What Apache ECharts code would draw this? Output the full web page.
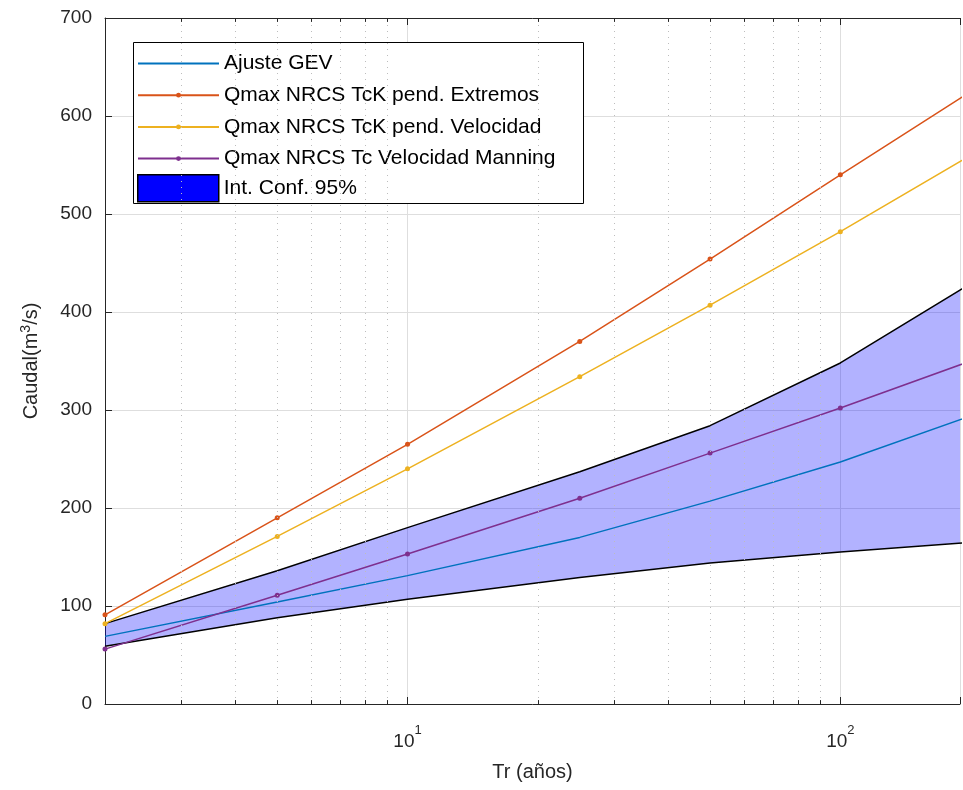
<!DOCTYPE html>
<html>
<head>
<meta charset="utf-8">
<script src="https://cdn.jsdelivr.net/npm/echarts@6/dist/echarts.min.js"></script>
<style>
  html, body { margin: 0; padding: 0; background: #fff; }
  #chart { width: 963px; height: 790px; }
</style>
</head>
<body>
<div id="chart"></div>
<script>
  // periodo de retorno (años)
  var tr = [2, 5, 10, 25, 50, 100, 200];
  // caudales (m3/s)
  var ajusteGEV = [69, 104, 131, 170, 207, 247, 294];
  var qExtremos = [91, 190, 265, 370, 454, 540, 625];
  var qVelocidad = [82, 171, 240, 334, 407, 482, 560];
  var qManning = [56, 111, 153, 210, 256, 302, 350];
  var icSup = [82, 136, 180, 237, 284, 348, 429];
  var icInf = [59, 88, 107, 129, 144, 155, 165];
  // ticks menores del eje log
  var minorTicks = [3, 4, 5, 6, 7, 8, 9, 20, 30, 40, 50, 60, 70, 80, 90];

  var font = 'Liberation Sans, Arial, sans-serif';
  var txt = '#262626';

  function pairs(vals) {
    return tr.map(function (t, i) { return [t, vals[i]]; });
  }

  var myChart = echarts.init(document.getElementById('chart'));

  var option = {
    backgroundColor: '#fff',
    animation: false,
    textStyle: { fontFamily: font },
    grid: { left: 105, right: 0, top: 18, bottom: 86 },
    graphic: [{
      type: 'rect', left: 133, top: 42, z: 3,
      shape: { width: 450, height: 161 },
      style: { fill: '#fff', stroke: '#000', lineWidth: 1 }
    }],
    legend: [{
      data: [
        { name: 'Ajuste GEV', itemStyle: { color: 'transparent', borderWidth: 0 } },
        'Qmax NRCS TcK pend. Extremos', 'Qmax NRCS TcK pend. Velocidad', 'Qmax NRCS Tc Velocidad Manning'
      ],
      orient: 'vertical', left: 137, top: 53, padding: 0, z: 5,
      itemWidth: 81, itemHeight: 6, itemGap: 10.7,
      textStyle: { fontSize: 21, color: '#000', fontFamily: font }
    }, {
      data: [{ name: 'Int. Conf. 95%', icon: 'rect', itemStyle: { color: '#0000ff', borderColor: '#000', borderWidth: 1.5 } }],
      orient: 'vertical', left: 137, top: 174, padding: 0, z: 5,
      itemWidth: 81, itemHeight: 27,
      textStyle: { fontSize: 21, color: '#000', fontFamily: font }
    }],
    xAxis: [{
      type: 'log', logBase: 10, min: 2, max: 189,
      name: 'Tr (años)', nameLocation: 'middle', nameGap: 58,
      nameTextStyle: { fontSize: 20, color: txt, fontFamily: font },
      axisLine: { lineStyle: { color: txt, width: 1 } },
      axisTick: { inside: true, length: 7, lineStyle: { color: txt } },
      axisLabel: {
        color: txt, margin: 20, fontFamily: font,
        formatter: function (v) {
          var e = Math.log10(v);
          if (Math.abs(e - Math.round(e)) > 1e-6) return '';
          return '{b|10}{sup|' + Math.round(e) + '}';
        },
        rich: {
          b: { fontSize: 19, color: txt, verticalAlign: 'bottom', fontFamily: font },
          sup: { fontSize: 13, color: txt, verticalAlign: 'bottom', padding: [0, 0, 14, 0], fontFamily: font }
        }
      },
      splitLine: { show: true, lineStyle: { color: '#dedede', width: 1 } }
    }, {
      type: 'log', logBase: 10, min: 2, max: 189, position: 'top',
      axisLine: { lineStyle: { color: txt, width: 1 } },
      axisTick: { inside: true, length: 7, lineStyle: { color: txt } },
      axisLabel: { show: false },
      splitLine: { show: false }
    }],
    yAxis: {
      type: 'value', min: 0, max: 700, interval: 100,
      name: 'Caudal(m{sup|3}/s)', nameLocation: 'middle', nameGap: 62,
      nameTextStyle: {
        fontSize: 20, color: txt, fontFamily: font,
        rich: { sup: { fontSize: 14, color: txt, verticalAlign: 'bottom', padding: [0, 0, 10, 0], fontFamily: font } }
      },
      axisLine: { show: true, lineStyle: { color: txt, width: 1 } },
      axisTick: { show: true, inside: true, length: 7, lineStyle: { color: txt } },
      axisLabel: { color: txt, fontSize: 19, margin: 13, fontFamily: font },
      splitLine: { show: true, lineStyle: { color: '#dedede', width: 1 } }
    },
    series: [
      {
        // banda del intervalo de confianza
        name: 'Int. Conf. 95%', type: 'custom', clip: true,
        data: [[tr[0], icInf[0]]],
        itemStyle: { color: '#0000ff' },
        renderItem: function (params, api) {
          var pts = [];
          for (var i = 0; i < tr.length; i++) pts.push(api.coord([tr[i], icSup[i]]));
          for (var j = tr.length - 1; j >= 0; j--) pts.push(api.coord([tr[j], icInf[j]]));
          return { type: 'polygon', shape: { points: pts }, style: { fill: 'rgba(0,0,255,0.3)' } };
        },
        markLine: {
          silent: true, symbol: 'none', label: { show: false },
          lineStyle: { color: '#bdbdbd', type: [1, 5], width: 1 },
          data: minorTicks.map(function (v) { return { xAxis: v }; })
            .concat(minorTicks.map(function (v) {
              return [{ coord: [v, 0], lineStyle: { color: txt, type: 'solid' } }, { coord: [v, 4] }];
            }))
            .concat(minorTicks.map(function (v) {
              return [{ coord: [v, 700], lineStyle: { color: txt, type: 'solid' } }, { coord: [v, 696] }];
            }))
        }
      },
      {
        name: 'icSup', type: 'line', symbol: 'none',
        data: pairs(icSup),
        lineStyle: { color: '#000', width: 1.5 }
      },
      {
        name: 'icInf', type: 'line', symbol: 'none',
        data: pairs(icInf),
        lineStyle: { color: '#000', width: 1.5 }
      },
      {
        name: 'Ajuste GEV', type: 'line', symbol: 'none',
        data: pairs(ajusteGEV),
        itemStyle: { color: '#0072BD' },
        lineStyle: { color: '#0072BD', width: 1.5 }
      },
      {
        name: 'Qmax NRCS TcK pend. Extremos', type: 'line', symbol: 'circle', symbolSize: 5,
        data: pairs(qExtremos),
        itemStyle: { color: '#D95319' },
        lineStyle: { color: '#D95319', width: 1.5 }
      },
      {
        name: 'Qmax NRCS TcK pend. Velocidad', type: 'line', symbol: 'circle', symbolSize: 5,
        data: pairs(qVelocidad),
        itemStyle: { color: '#EDB120' },
        lineStyle: { color: '#EDB120', width: 1.5 }
      },
      {
        name: 'Qmax NRCS Tc Velocidad Manning', type: 'line', symbol: 'circle', symbolSize: 5,
        data: pairs(qManning),
        itemStyle: { color: '#7E2F8E' },
        lineStyle: { color: '#7E2F8E', width: 1.5 }
      }
    ]
  };

  option && myChart.setOption(option);
</script>
</body>
</html>
